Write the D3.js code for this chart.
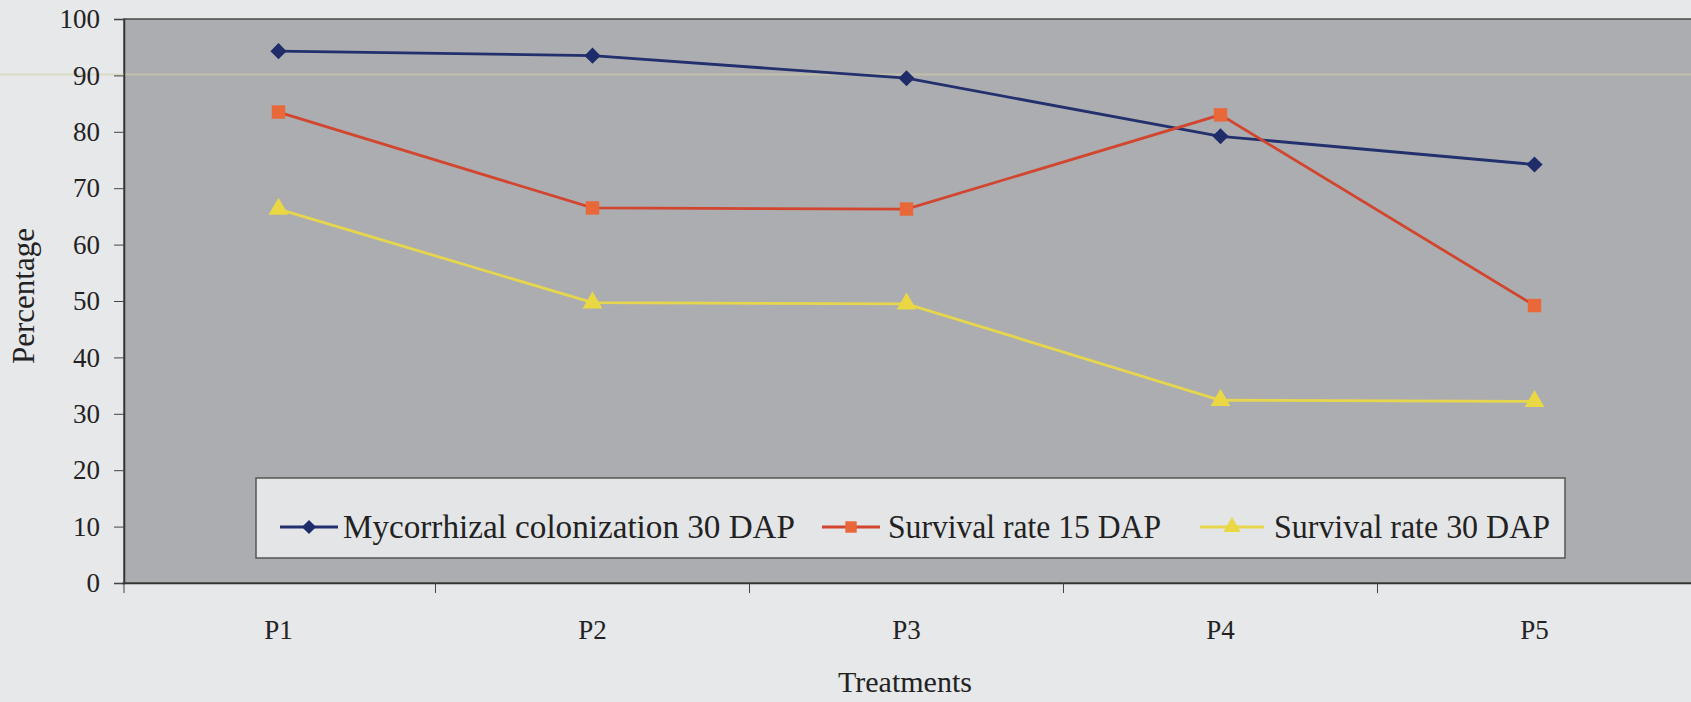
<!DOCTYPE html>
<html>
<head>
<meta charset="utf-8">
<script src="https://cdn.jsdelivr.net/npm/d3@7"></script>
<style>
  html, body { margin: 0; padding: 0; background: #e7e8ea; }
  svg { display: block; }
  text { font-family: "Liberation Serif", "Times New Roman", serif; fill: #222; }
</style>
</head>
<body>
<svg id="chart" width="1691" height="702"></svg>
<script>
// Treatments and measured percentages
const categories = ["P1", "P2", "P3", "P4", "P5"];
const colonization30 = [94.3, 93.5, 89.5, 79.2, 74.2];
const survival15 = [83.5, 66.5, 66.3, 83.0, 49.2];
const survival30 = [66.3, 49.7, 49.5, 32.4, 32.2];
const yTicks = [0, 10, 20, 30, 40, 50, 60, 70, 80, 90, 100];

// square-proportioned diamond marker
const wideDiamond = {
  draw(ctx, size) {
    const r = Math.sqrt(size / 2);
    ctx.moveTo(0, -r); ctx.lineTo(r, 0); ctx.lineTo(0, r); ctx.lineTo(-r, 0); ctx.closePath();
  }
};

const seriesList = [
  { name: "Mycorrhizal colonization 30 DAP", values: colonization30, line: "#22306e", fill: "#1f2c6a", shape: wideDiamond, size: 130, legendSize: 100, textX: 343, textW: 452, sampleX: 280, sampleW: 58 },
  { name: "Survival rate 15 DAP", values: survival15, line: "#d2452e", fill: "#e8683a", shape: d3.symbolSquare, size: 180, legendSize: 130, textX: 888, textW: 273, sampleX: 822, sampleW: 58 },
  { name: "Survival rate 30 DAP", values: survival30, line: "#e6d64e", fill: "#e9d843", shape: d3.symbolTriangle, size: 170, legendSize: 130, textX: 1274, textW: 276, sampleX: 1200, sampleW: 64 }
];

const svg = d3.select("#chart");
const plot = { left: 124, top: 19, right: 1694, bottom: 583 };

const x = d3.scaleBand().domain(categories).range([121.5, 1691.5]).padding(0);
const y = d3.scaleLinear().domain([0, 100]).range([plot.bottom, plot.top]);

// plot area
svg.append("rect")
  .attr("x", plot.left).attr("y", plot.top)
  .attr("width", plot.right - plot.left).attr("height", plot.bottom - plot.top)
  .attr("fill", "#acadb0").attr("stroke", "#4a4a4a").attr("stroke-width", 1.5);

// faint band near the 90 line
svg.append("line")
  .attr("x1", 0).attr("x2", plot.right)
  .attr("y1", y(90) - 1).attr("y2", y(90) - 1)
  .attr("stroke", "#d2d2a6").attr("stroke-width", 2).attr("opacity", 0.55);

// y axis
const yAxis = svg.append("g")
  .attr("transform", `translate(${plot.left},0)`)
  .call(d3.axisLeft(y).tickValues(yTicks).tickSize(10).tickPadding(14));
yAxis.select(".domain").attr("stroke", "#333").attr("stroke-width", 1.5);
yAxis.selectAll(".tick line").attr("stroke", "#444");
yAxis.selectAll(".tick text").attr("font-size", 27).attr("font-family", "Liberation Serif").attr("fill", "#222");

// x axis: ticks between categories
const xAxis = svg.append("g")
  .attr("transform", `translate(0,${plot.bottom})`)
  .call(d3.axisBottom(x).tickSize(0).tickPadding(0));
xAxis.select(".domain").attr("stroke", "#333").attr("stroke-width", 1.5);
xAxis.selectAll(".tick text")
  .attr("font-size", 27).attr("font-family", "Liberation Serif").attr("fill", "#222")
  .attr("dy", null).attr("y", 56);
xAxis.selectAll(".sep")
  .data([plot.left].concat(categories.slice(1).map(c => x(c))))
  .enter().append("line")
  .attr("class", "sep")
  .attr("x1", d => d).attr("x2", d => d)
  .attr("y1", 0).attr("y2", 10)
  .attr("stroke", "#444");

// axis titles
svg.append("text")
  .attr("x", 905).attr("y", 692)
  .attr("text-anchor", "middle").attr("font-size", 30)
  .text("Treatments");
svg.append("text")
  .attr("transform", `translate(34,296) rotate(-90)`)
  .attr("text-anchor", "middle").attr("font-size", 31)
  .text("Percentage");

// series
const cx = c => x(c) + x.bandwidth() / 2;
const lineGen = d3.line().x((d, i) => cx(categories[i])).y(d => y(d));

seriesList.forEach(s => {
  svg.append("path")
    .datum(s.values)
    .attr("d", lineGen)
    .attr("fill", "none")
    .attr("stroke", s.line)
    .attr("stroke-width", 2.8);
});
seriesList.forEach(s => {
  svg.selectAll(null)
    .data(s.values)
    .enter().append("path")
    .attr("d", d3.symbol().type(s.shape).size(s.size))
    .attr("transform", (d, i) => `translate(${cx(categories[i])},${y(d)})`)
    .attr("fill", s.fill);
});

// legend
const legend = svg.append("g");
legend.append("rect")
  .attr("x", 256).attr("y", 478).attr("width", 1309).attr("height", 80)
  .attr("fill", "#e4e5e7").attr("stroke", "#555").attr("stroke-width", 1.5);
seriesList.forEach(s => {
  const ly = 527;
  legend.append("line")
    .attr("x1", s.sampleX).attr("x2", s.sampleX + s.sampleW).attr("y1", ly).attr("y2", ly)
    .attr("stroke", s.line).attr("stroke-width", 2.8);
  legend.append("path")
    .attr("d", d3.symbol().type(s.shape).size(s.legendSize))
    .attr("transform", `translate(${s.sampleX + s.sampleW / 2},${ly})`)
    .attr("fill", s.fill);
  legend.append("text")
    .attr("x", s.textX).attr("y", ly + 11)
    .attr("font-size", 33)
    .attr("textLength", s.textW).attr("lengthAdjust", "spacingAndGlyphs")
    .text(s.name);
});
</script>
</body>
</html>
